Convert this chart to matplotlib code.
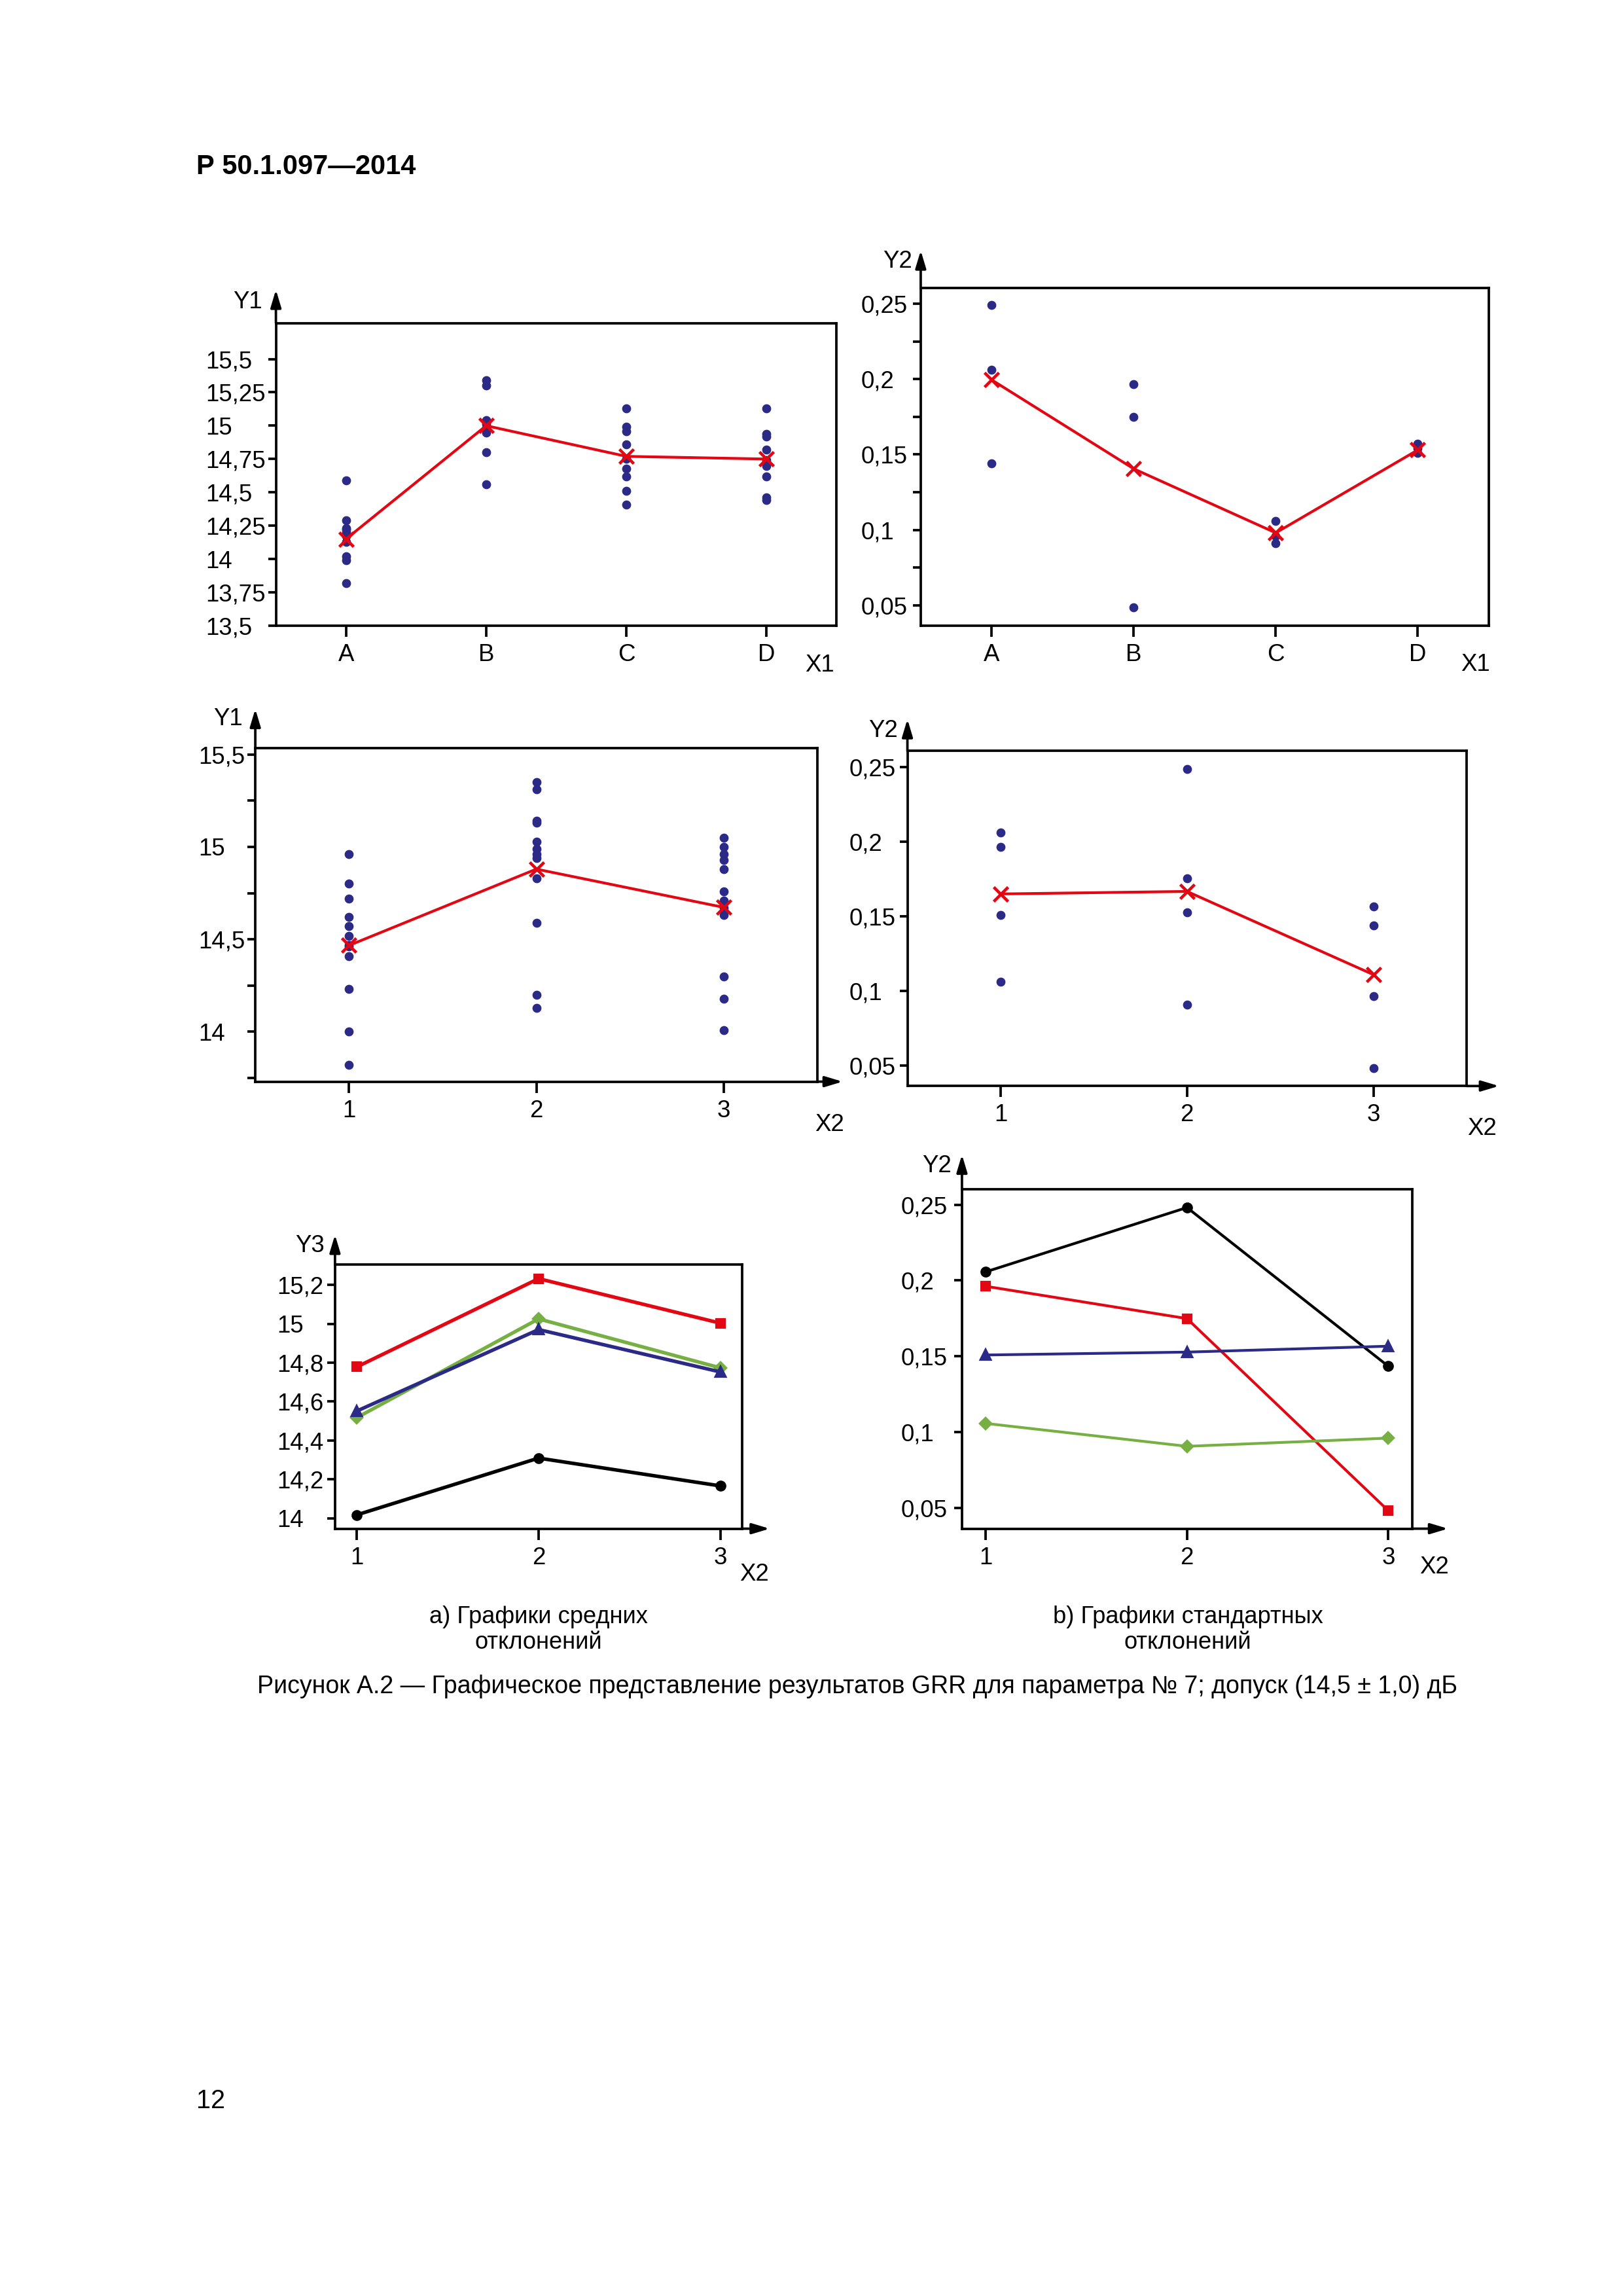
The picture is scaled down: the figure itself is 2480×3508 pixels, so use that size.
import matplotlib
matplotlib.use("Agg")
import matplotlib.pyplot as plt

plt.rcParams["font.family"] = ["Liberation Sans", "DejaVu Sans"]
plt.rcParams["font.size"] = 9

# --- данные ---
operadores = ["A", "B", "C", "D"]
pecas = [1, 2, 3]

# Y1 по X1: отдельные значения и средние
y1_x1_pontos = [
    [14.59, 14.29, 14.23, 14.22, 14.20, 14.17, 14.13, 14.02, 13.99, 13.82],
    [15.34, 15.30, 15.04, 15.01, 14.98, 14.95, 14.80, 14.56],
    [15.13, 14.99, 14.96, 14.86, 14.75, 14.68, 14.62, 14.51, 14.41],
    [15.13, 14.94, 14.92, 14.82, 14.74, 14.70, 14.62, 14.46, 14.44],
]
y1_x1_media = [14.15, 15.00, 14.77, 14.75]

# Y2 по X1
y2_x1_pontos = [
    [0.249, 0.206, 0.144],
    [0.1965, 0.175, 0.0485],
    [0.106, 0.096, 0.091],
    [0.157, 0.154, 0.151],
]
y2_x1_media = [0.1995, 0.1405, 0.098, 0.153]

# Y1 по X2
y1_x2_pontos = [
    [14.96, 14.80, 14.72, 14.62, 14.57, 14.52, 14.47, 14.46, 14.41, 14.23, 14.00, 13.82],
    [15.35, 15.31, 15.14, 15.13, 15.03, 14.99, 14.96, 14.94, 14.83, 14.59, 14.20, 14.13],
    [15.05, 15.00, 14.96, 14.93, 14.88, 14.76, 14.71, 14.67, 14.63, 14.30, 14.18, 14.01],
]
y1_x2_media = [14.467, 14.88, 14.673]

# Y2 по X2
y2_x2_pontos = [
    [0.206, 0.1965, 0.151, 0.106],
    [0.2485, 0.1755, 0.1525, 0.091],
    [0.1565, 0.144, 0.0965, 0.0485],
]
y2_x2_media = [0.165, 0.1667, 0.111]

# Y3 по X2 (средние по операторам)
y3_vermelho = [14.778, 15.232, 15.003]
y3_verde = [14.517, 15.025, 14.773]
y3_azul = [14.551, 14.970, 14.752]
y3_preto = [14.017, 14.309, 14.166]

# Y2 по X2 (стандартные отклонения по операторам)
dp_preto = [0.2057, 0.2481, 0.1435]
dp_vermelho = [0.1962, 0.1749, 0.0483]
dp_azul = [0.1509, 0.1528, 0.1567]
dp_verde = [0.1058, 0.0907, 0.0961]

# деления осей
ticks_y1a = [13.5, 13.75, 14, 14.25, 14.5, 14.75, 15, 15.25, 15.5]
labels_y1a = ["13,5", "13,75", "14", "14,25", "14,5", "14,75", "15", "15,25", "15,5"]
ticks_y2 = [0.05, 0.1, 0.15, 0.2, 0.25]
labels_y2 = ["0,05", "0,1", "0,15", "0,2", "0,25"]
ticks_y2_minor = [0.075, 0.125, 0.175, 0.225]
ticks_y1b = [14, 14.5, 15, 15.5]
labels_y1b = ["14", "14,5", "15", "15,5"]
ticks_y1b_minor = [13.75, 14.25, 14.75, 15.25]
ticks_y3 = [14, 14.2, 14.4, 14.6, 14.8, 15, 15.2]
labels_y3 = ["14", "14,2", "14,4", "14,6", "14,8", "15", "15,2"]

NAVY = "#2b2a86"
RED = "#e30613"
GREEN = "#76b043"


def prepararEixo(ax, ylabel, xlabel, ext_y, pos_ylabel, pos_xlabel, pad, seta_x=None):
    for s in ax.spines.values():
        s.set_linewidth(0.9)
    ax.tick_params(axis="both", direction="out", width=0.9, labelsize=8.8)
    ax.tick_params(axis="y", length=2.8, pad=pad)
    ax.tick_params(axis="x", length=4, pad=2.5)
    ax.tick_params(axis="y", which="minor", length=2.8, width=0.9)
    for lab in ax.get_yticklabels():
        lab.set_horizontalalignment("left")
    # seta do eixo Y acima da moldura
    ax.annotate("", xy=(0, 1 + ext_y), xytext=(0, 1), xycoords="axes fraction",
                arrowprops=dict(arrowstyle="-|>,head_length=0.6,head_width=0.18",
                                lw=0.9, color="black", shrinkA=0, shrinkB=0))
    if seta_x is not None:
        ax.annotate("", xy=(1 + seta_x, 0), xytext=(1, 0), xycoords="axes fraction",
                    arrowprops=dict(arrowstyle="-|>,head_length=0.6,head_width=0.18",
                                    lw=0.9, color="black", shrinkA=0, shrinkB=0))
    ax.text(pos_ylabel[0], pos_ylabel[1], ylabel, transform=ax.transAxes,
            ha="right", va="center", fontsize=8.8)
    ax.text(pos_xlabel[0], pos_xlabel[1], xlabel, transform=ax.transAxes,
            ha="center", va="center", fontsize=8.8)


def pontosComMedia(ax, xs, pontos, media):
    for x, grupo in zip(xs, pontos):
        ax.plot([x] * len(grupo), grupo, "o", color=NAVY, markersize=2.3, zorder=3)
    ax.plot(xs, media, color=RED, lw=1.0, marker="x", markersize=5.5,
            markeredgewidth=1.1, zorder=4)


fig = plt.figure(figsize=(2480 / 300, 3508 / 300), dpi=300)

# ---- painel 1: Y1 x X1 ----
ax1 = fig.add_axes([0.170, 0.7275, 0.3455, 0.1318])
xs4 = list(range(len(operadores)))
pontosComMedia(ax1, xs4, y1_x1_pontos, y1_x1_media)
ax1.set_xlim(-0.5, 3.5)
ax1.set_ylim(13.5, 15.77)
ax1.set_xticks(xs4, operadores)
ax1.set_yticks(ticks_y1a, labels_y1a)
prepararEixo(ax1, "Y1", "X1", 0.11, (-0.024, 1.07), (0.97, -0.13), 23)

# ---- painel 2: Y2 x X1 ----
ax2 = fig.add_axes([0.5673, 0.7275, 0.350, 0.1472])
pontosComMedia(ax2, xs4, y2_x1_pontos, y2_x1_media)
ax2.set_xlim(-0.5, 3.5)
ax2.set_ylim(0.0364, 0.2607)
ax2.set_xticks(xs4, operadores)
ax2.set_yticks(ticks_y2, labels_y2)
ax2.set_yticks(ticks_y2_minor, minor=True)
prepararEixo(ax2, "Y2", "X1", 0.11, (-0.015, 1.077), (0.976, -0.115), 19)

# ---- painel 3: Y1 x X2 ----
ax3 = fig.add_axes([0.1573, 0.5289, 0.3463, 0.1453])
pontosComMedia(ax3, pecas, y1_x2_pontos, y1_x2_media)
ax3.set_xlim(0.5, 3.5)
ax3.set_ylim(13.73, 15.535)
ax3.set_xticks(pecas, [str(p) for p in pecas])
ax3.set_yticks(ticks_y1b, labels_y1b)
ax3.set_yticks(ticks_y1b_minor, minor=True)
prepararEixo(ax3, "Y1", "X2", 0.117, (-0.022, 1.087), (1.022, -0.13), 18, seta_x=0.045)

# ---- painel 4: Y2 x X2 ----
ax4 = fig.add_axes([0.5591, 0.5270, 0.3445, 0.1459])
pontosComMedia(ax4, pecas, y2_x2_pontos, y2_x2_media)
ax4.set_xlim(0.5, 3.5)
ax4.set_ylim(0.0364, 0.2607)
ax4.set_xticks(pecas, [str(p) for p in pecas])
ax4.set_yticks(ticks_y2, labels_y2)
prepararEixo(ax4, "Y2", "X2", 0.095, (-0.017, 1.06), (1.028, -0.128), 18.5, seta_x=0.058)

# ---- painel 5: médias por operador ----
ax5 = fig.add_axes([0.2064, 0.3342, 0.2509, 0.1150])
ax5.plot(pecas, y3_vermelho, color=RED, lw=1.3, marker="s", markersize=3.0)
ax5.plot(pecas, y3_verde, color=GREEN, lw=1.3, marker="D", markersize=2.8)
ax5.plot(pecas, y3_azul, color=NAVY, lw=1.3, marker="^", markersize=3.4)
ax5.plot(pecas, y3_preto, color="black", lw=1.3, marker="o", markersize=3.0)
ax5.set_xlim(0.88, 3.12)
ax5.set_ylim(13.946, 15.304)
ax5.set_xticks(pecas, [str(p) for p in pecas])
ax5.set_yticks(ticks_y3, labels_y3)
prepararEixo(ax5, "Y3", "X2", 0.113, (-0.025, 1.07), (1.03, -0.172), 18.5, seta_x=0.0675)

# ---- painel 6: desvios padrão por operador ----
ax6 = fig.add_axes([0.5927, 0.3342, 0.2773, 0.1478])
ax6.plot(pecas, dp_preto, color="black", lw=1.0, marker="o", markersize=3.0)
ax6.plot(pecas, dp_vermelho, color=RED, lw=1.0, marker="s", markersize=3.0)
ax6.plot(pecas, dp_azul, color=NAVY, lw=1.0, marker="^", markersize=3.4)
ax6.plot(pecas, dp_verde, color=GREEN, lw=1.0, marker="D", markersize=2.8)
ax6.set_xlim(0.882, 3.118)
ax6.set_ylim(0.0364, 0.2601)
ax6.set_xticks(pecas, [str(p) for p in pecas])
ax6.set_yticks(ticks_y2, labels_y2)
prepararEixo(ax6, "Y2", "X2", 0.102, (-0.023, 1.068), (1.05, -0.114), 19.5, seta_x=0.08)

# ---- textos da página ----
fig.text(133 / 1100, 1 - 113 / 1556, "Р 50.1.097—2014", fontsize=10, fontweight="bold",
         ha="left", va="center")
fig.text(365 / 1100, 1 - 1104.5 / 1556, "а) Графики средних\nотклонений", fontsize=8.7,
         ha="center", va="center", linespacing=1.15)
fig.text(805 / 1100, 1 - 1104.5 / 1556, "b) Графики стандартных\nотклонений", fontsize=8.7,
         ha="center", va="center", linespacing=1.15)
fig.text(581 / 1100, 1 - 1143 / 1556,
         "Рисунок А.2 — Графическое представление результатов GRR для параметра № 7; допуск (14,5 ± 1,0) дБ",
         fontsize=9, ha="center", va="center")
fig.text(133 / 1100, 1 - 1424 / 1556, "12", fontsize=9.5, ha="left", va="center")

fig.savefig("out.png", dpi=300)
